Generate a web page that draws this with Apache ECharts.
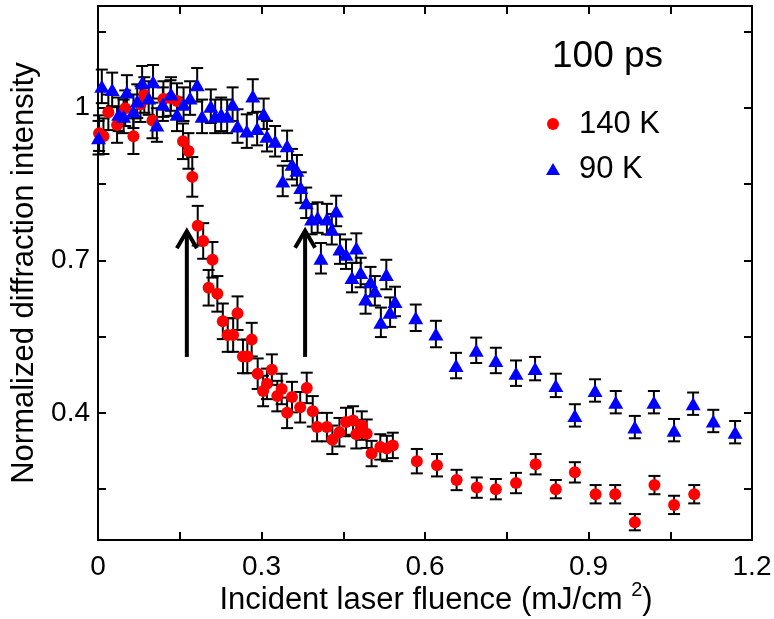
<!DOCTYPE html>
<html>
<head>
<meta charset="utf-8">
<script src="https://cdn.jsdelivr.net/npm/echarts@6/dist/echarts.min.js"></script>
<style>
  html, body { margin: 0; padding: 0; background: #fff; }
  #chart { width: 774px; height: 619px; }
</style>
</head>
<body>
<div id="chart"></div>
<script>
// 140 K (red circles)
var redX = [0.002, 0.01, 0.019, 0.035, 0.05, 0.065, 0.078, 0.085, 0.1, 0.12, 0.133, 0.145, 0.156, 0.166, 0.173,
  0.183, 0.193, 0.203, 0.21, 0.219, 0.229, 0.238, 0.248, 0.256, 0.266, 0.274, 0.282, 0.293, 0.303, 0.31,
  0.319, 0.329, 0.337, 0.347, 0.356, 0.371, 0.383, 0.394, 0.402, 0.42, 0.43, 0.443, 0.455, 0.468, 0.474,
  0.484, 0.493, 0.502, 0.518, 0.53, 0.541, 0.585, 0.622, 0.658, 0.695, 0.73, 0.767, 0.803, 0.84, 0.875,
  0.913, 0.949, 0.985, 1.021, 1.057, 1.094];
var redY = [0.95, 0.944, 0.991, 0.966, 0.999, 0.944, 1.007, 1.025, 0.975, 1.017, 1.019, 1.013, 0.934, 0.915, 0.864,
  0.768, 0.738, 0.646, 0.701, 0.634, 0.58, 0.553, 0.553, 0.596, 0.511, 0.511, 0.544, 0.477, 0.443, 0.457,
  0.485, 0.433, 0.447, 0.40, 0.431, 0.411, 0.449, 0.403, 0.372, 0.372, 0.347, 0.362, 0.382, 0.385, 0.358,
  0.375, 0.359, 0.32, 0.333, 0.33, 0.336, 0.305, 0.297, 0.268, 0.253, 0.25, 0.262, 0.299, 0.25, 0.283,
  0.24, 0.24, 0.185, 0.258, 0.219, 0.24];
var redErr = [0.035, 0.035, 0.035, 0.035, 0.035, 0.035, 0.035, 0.035, 0.035, 0.035, 0.035, 0.035, 0.035, 0.035, 0.039,
  0.039, 0.035, 0.035, 0.035, 0.035, 0.035, 0.033, 0.033, 0.033, 0.033, 0.033, 0.033, 0.03, 0.03, 0.03,
  0.03, 0.03, 0.03, 0.03, 0.03, 0.03, 0.03, 0.03, 0.028, 0.028, 0.028, 0.028, 0.028, 0.028, 0.028,
  0.028, 0.028, 0.025, 0.025, 0.025, 0.025, 0.024, 0.022, 0.02, 0.02, 0.02, 0.02, 0.02, 0.018, 0.02,
  0.018, 0.018, 0.016, 0.018, 0.018, 0.018];

// 90 K (blue triangles)
var blueX = [0.001, 0.007, 0.026, 0.038, 0.047, 0.053, 0.065, 0.072, 0.081, 0.093, 0.101, 0.108, 0.119, 0.134, 0.145,
  0.157, 0.169, 0.182, 0.191, 0.207, 0.215, 0.226, 0.237, 0.247, 0.256, 0.273, 0.284, 0.292, 0.304, 0.31,
  0.325, 0.339, 0.347, 0.356, 0.365, 0.372, 0.382, 0.392, 0.403, 0.409, 0.42, 0.429, 0.437, 0.444, 0.455,
  0.466, 0.474, 0.482, 0.491, 0.5, 0.508, 0.519, 0.529, 0.536, 0.545, 0.583, 0.62, 0.657, 0.694, 0.73,
  0.767, 0.802, 0.84, 0.875, 0.912, 0.95, 0.985, 1.02, 1.057, 1.092, 1.129, 1.169];
var blueY = [0.941, 1.042, 1.036, 0.987, 0.983, 1.031, 0.993, 1.013, 1.049, 1.019, 1.051, 0.966, 1.007, 1.027, 0.987,
  1.007, 1.019, 1.045, 0.983, 1.003, 0.983, 0.987, 0.983, 1.007, 0.964, 0.954, 1.023, 0.959, 0.988, 0.944,
  0.934, 0.856, 0.925, 0.889, 0.877, 0.843, 0.813, 0.781, 0.784, 0.704, 0.781, 0.761, 0.797, 0.722, 0.712,
  0.666, 0.724, 0.676, 0.624, 0.658, 0.64, 0.578, 0.672, 0.598, 0.619, 0.587, 0.555, 0.493, 0.523, 0.503,
  0.478, 0.487, 0.454, 0.395, 0.444, 0.421, 0.372, 0.421, 0.366, 0.418, 0.384, 0.362];
var blueErr = [0.033, 0.033, 0.033, 0.033, 0.033, 0.033, 0.033, 0.033, 0.033, 0.033, 0.033, 0.033, 0.033, 0.033, 0.033,
  0.033, 0.033, 0.033, 0.033, 0.033, 0.033, 0.033, 0.033, 0.033, 0.033, 0.033, 0.033, 0.033, 0.03, 0.03,
  0.03, 0.03, 0.03, 0.03, 0.03, 0.03, 0.03, 0.03, 0.03, 0.03, 0.03, 0.03, 0.03, 0.029, 0.029,
  0.029, 0.029, 0.029, 0.029, 0.029, 0.029, 0.029, 0.029, 0.029, 0.029, 0.026, 0.026, 0.025, 0.025, 0.025,
  0.025, 0.023, 0.023, 0.022, 0.022, 0.022, 0.022, 0.022, 0.022, 0.022, 0.022, 0.022];

// arrows (x, bottom y, tip y)
var arrowX = [0.163, 0.38];
var arrowY0 = [0.51, 0.51];
var arrowY1 = [0.757, 0.758];

var xLabelValues = [0, 0.3, 0.6, 0.9, 1.2];
var yTickValues = [0.25, 0.4, 0.55, 0.7, 0.85, 1.0, 1.15];
var yLabelValues = [0.4, 0.7, 1.0];

function zip3(a, b, c) {
  return a.map(function (v, i) { return [v, b[i], c[i]]; });
}

//误差线
function renderErr(params, api) {
  var x = api.value(0), y = api.value(1), e = api.value(2);
  var t = api.coord([x, y + e]);
  var b = api.coord([x, y - e]);
  var w = 6;
  var st = { stroke: "#000", lineWidth: 2 };
  return {
    type: "group",
    children: [
      { type: "line", shape: { x1: t[0], y1: t[1], x2: b[0], y2: b[1] }, style: st },
      { type: "line", shape: { x1: t[0] - w, y1: t[1], x2: t[0] + w, y2: t[1] }, style: st },
      { type: "line", shape: { x1: b[0] - w, y1: b[1], x2: b[0] + w, y2: b[1] }, style: st }
    ]
  };
}

function renderArrow(params, api) {
  var p0 = api.coord([api.value(0), api.value(1)]);
  var p1 = api.coord([api.value(0), api.value(2)]);
  var st = { stroke: "#000", lineWidth: 4, fill: null, lineJoin: "miter" };
  return {
    type: "group",
    children: [
      { type: "line", shape: { x1: p0[0], y1: p0[1], x2: p1[0], y2: p1[1] + 2 }, style: st },
      { type: "polyline", shape: { points: [[p1[0] - 10, p1[1] + 17], [p1[0], p1[1]], [p1[0] + 10, p1[1] + 17]] }, style: st }
    ]
  };
}

function fmt(v) {
  return String(Math.round(v * 100) / 100);
}

var font = "Liberation Sans";
var chart = echarts.init(document.getElementById("chart"));
var option = {
  animation: false,
  textStyle: { fontFamily: font },
  grid: { left: 98, right: 22, top: 6, bottom: 79, outerBoundsMode: "none", containLabel: false },
  graphic: [
    {
      type: "text",
      x: 552,
      y: 57,
      style: { text: "100 ps", font: "37px Liberation Sans", fill: "#000", verticalAlign: "middle" }
    }
  ],
  legend: {
    orient: "vertical",
    left: 546,
    top: 108,
    padding: 0,
    itemGap: 13,
    itemWidth: 14,
    itemHeight: 12,
    textStyle: { fontFamily: font, fontSize: 31, lineHeight: 32, color: "#000", padding: [0, 0, 0, 14] },
    data: [
      { name: "140 K", icon: "circle", itemStyle: { color: "#ff0000" } },
      { name: "90 K", icon: "triangle", itemStyle: { color: "#0000ff" } }
    ]
  },
  xAxis: [
    {
      type: "value",
      min: 0,
      max: 1.2,
      interval: 0.15,
      name: "{a|Incident laser fluence (mJ/cm }{s|2}{a|)}",
      nameLocation: "middle",
      nameGap: 40,
      nameMoveOverlap: false,
      nameTextStyle: {
        padding: [0, 0, 0, 22],
        rich: {
          a: { fontFamily: font, fontSize: 31, color: "#000", verticalAlign: "bottom", lineHeight: 36 },
          s: { fontFamily: font, fontSize: 20, color: "#000", verticalAlign: "top", padding: [0, 0, 16, 0] }
        }
      },
      axisLine: { onZero: false, lineStyle: { color: "#000", width: 2 } },
      axisTick: { inside: true, length: 8, lineStyle: { color: "#000", width: 2 } },
      axisLabel: { customValues: xLabelValues, formatter: fmt, fontSize: 28, color: "#000", margin: 13, fontFamily: font },
      splitLine: { show: false }
    },
    {
      type: "value",
      position: "top",
      min: 0,
      max: 1.2,
      interval: 0.15,
      axisLine: { onZero: false, lineStyle: { color: "#000", width: 2 } },
      axisTick: { inside: true, length: 8, lineStyle: { color: "#000", width: 2 } },
      axisLabel: { show: false },
      splitLine: { show: false }
    }
  ],
  yAxis: [
    {
      type: "value",
      min: 0.15,
      max: 1.2,
      name: "Normalized diffraction intensity",
      nameLocation: "middle",
      nameGap: 58,
      nameMoveOverlap: false,
      nameTextStyle: { fontFamily: font, fontSize: 31, color: "#000" },
      axisLine: { onZero: false, lineStyle: { color: "#000", width: 2 } },
      axisTick: { inside: true, length: 8, customValues: yTickValues, lineStyle: { color: "#000", width: 2 } },
      axisLabel: { customValues: yLabelValues, formatter: fmt, fontSize: 28, color: "#000", margin: 8, fontFamily: font },
      splitLine: { show: false }
    },
    {
      type: "value",
      position: "right",
      min: 0.15,
      max: 1.2,
      axisLine: { onZero: false, lineStyle: { color: "#000", width: 2 } },
      axisTick: { inside: true, length: 8, customValues: yTickValues, lineStyle: { color: "#000", width: 2 } },
      axisLabel: { show: false },
      splitLine: { show: false }
    }
  ],
  series: [
    {
      type: "custom",
      renderItem: renderErr,
      data: zip3(redX, redY, redErr),
      encode: { x: 0, y: 1 },
      z: 2,
      silent: true
    },
    {
      type: "custom",
      renderItem: renderErr,
      data: zip3(blueX, blueY, blueErr),
      encode: { x: 0, y: 1 },
      z: 2,
      silent: true
    },
    {
      name: "140 K",
      type: "scatter",
      symbol: "circle",
      symbolSize: 12,
      itemStyle: { color: "#ff0000", opacity: 1 },
      data: redX.map(function (v, i) { return [v, redY[i]]; }),
      z: 3
    },
    {
      name: "90 K",
      type: "scatter",
      symbol: "triangle",
      symbolSize: [15, 13],
      itemStyle: { color: "#0000ff", opacity: 1 },
      data: blueX.map(function (v, i) { return [v, blueY[i]]; }),
      z: 4
    },
    {
      type: "custom",
      renderItem: renderArrow,
      data: zip3(arrowX, arrowY0, arrowY1),
      encode: { x: 0, y: [1, 2] },
      z: 5,
      silent: true
    }
  ]
};
chart.setOption(option);
</script>
</body>
</html>
